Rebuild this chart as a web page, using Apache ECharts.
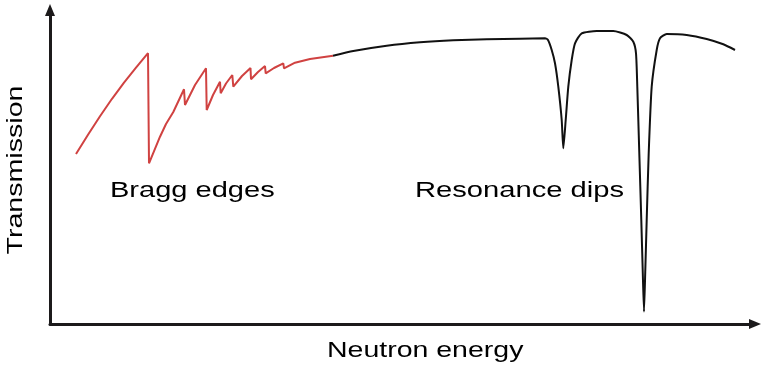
<!DOCTYPE html>
<html>
<head>
<meta charset="utf-8">
<script src="https://cdn.jsdelivr.net/npm/echarts@6/dist/echarts.min.js"></script>
<style>html,body{margin:0;padding:0;background:#fff}#c{width:768px;height:373px}</style>
</head>
<body>
<div id="c"></div>
<script>
// Neutron energy (arbitrary units) vs transmission (arbitrary units)
var braggEnergy = [26, 38, 50, 62, 74, 86, 98, 99, 110, 116, 123.3, 134, 135, 145, 156, 156.7, 163, 170, 170.7, 176, 182.3, 183.3, 192, 200.5, 201, 208, 215, 215.7, 224, 233.3, 234, 245, 260, 283];
var braggTrans  = [170, 189.2, 207.8, 225.2, 241.4, 256.4, 270.8, 160.7, 187.3, 200, 212, 234.7, 219, 239, 255.7, 214, 229, 242.3, 230.7, 240.5, 249, 237.3, 248, 256, 244.7, 252, 258, 250.7, 256, 260.7, 255.7, 261.3, 265, 268.3];
var resEnergy = [283, 303.3, 336.7, 370, 403.3, 436.7, 470, 495, 498, 501.7, 505, 508.3, 511.7, 513.3, 515.7, 518.3, 521.7, 525, 531.7, 546.7, 563.3, 576.7, 583.3, 586, 587.3, 589.3, 591.3, 592.7, 594, 595.3, 596.7, 598.7, 601.7, 606.7, 610, 616.7, 636.7, 656.7, 673.3, 685];
var resTrans  = [268.3, 273, 278.3, 281.7, 283.7, 284.7, 285.3, 285.7, 284, 274, 260.7, 237.3, 204, 175.7, 204, 237.3, 264, 280.7, 290.7, 293, 293, 289, 282.3, 270.7, 237.3, 170.7, 104, 54, 12.3, 54, 104, 170.7, 237.3, 274, 285.7, 290, 289, 285, 279.7, 274];
var xName = 'Neutron energy';
var yName = 'Transmission';
var braggLabel = 'Bragg edges';
var resLabel = 'Resonance dips';

function pairs(xs, ys) { return xs.map(function (x, i) { return [x, ys[i]]; }); }

var chart = echarts.init(document.getElementById('c'), null, { renderer: 'canvas' });
var axisStyle = { color: '#1c1a1b', width: 3 };
var font = '22px "Liberation Sans", Arial, sans-serif';
chart.setOption({
  animation: false,
  grid: { left: 50, right: 13, top: 10, bottom: 49 },
  xAxis: {
    type: 'value', min: 0, max: 705,
    axisLine: { show: true, onZero: false, lineStyle: axisStyle, symbol: ['none', 'triangle'], symbolSize: [10, 12] },
    axisTick: { show: false }, axisLabel: { show: false }, splitLine: { show: false }
  },
  yAxis: {
    type: 'value', min: 0, max: 314,
    axisLine: { show: true, onZero: false, lineStyle: axisStyle, symbol: ['none', 'triangle'], symbolSize: [10, 12] },
    axisTick: { show: false }, axisLabel: { show: false }, splitLine: { show: false }
  },
  series: [
    { type: 'line', data: pairs(braggEnergy, braggTrans), showSymbol: false, lineStyle: { color: '#d04241', width: 2 }, z: 3 },
    { type: 'line', data: pairs(resEnergy, resTrans), showSymbol: false, smooth: 0.2, lineStyle: { color: '#111111', width: 2 }, z: 2 }
  ],
  graphic: [
    { type: 'text', x: 110, y: 191, scaleX: 1.32, style: { text: braggLabel, font: font, fill: '#000', align: 'left', verticalAlign: 'middle' } },
    { type: 'text', x: 415, y: 191, scaleX: 1.325, style: { text: resLabel, font: font, fill: '#000', align: 'left', verticalAlign: 'middle' } },
    { type: 'text', x: 327, y: 351, scaleX: 1.295, style: { text: xName, font: font, fill: '#000', align: 'left', verticalAlign: 'middle' } },
    { type: 'text', x: 16, y: 170, rotation: Math.PI / 2, scaleX: 1.3, style: { text: yName, font: font, fill: '#000', align: 'center', verticalAlign: 'middle' } }
  ]
});
</script>
</body>
</html>
